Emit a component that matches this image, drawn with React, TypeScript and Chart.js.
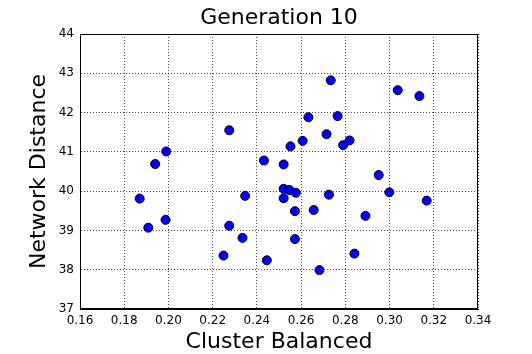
import React, { useEffect, useRef } from "react";
import { Chart, registerables } from "chart.js";

Chart.register(...registerables);

const clusterBalanced: number[] = [
  0.2734, 0.3037, 0.3135, 0.2633, 0.2765, 0.2275, 0.199, 0.194, 0.187, 0.1987,
  0.1909, 0.2432, 0.2521, 0.2552, 0.2607, 0.2715, 0.279, 0.2819, 0.2951, 0.2999,
  0.3168, 0.2891, 0.2347, 0.2521, 0.2547, 0.2576, 0.2521, 0.2572, 0.2657, 0.2726,
  0.2275, 0.2335, 0.2572, 0.2249, 0.2445, 0.2683, 0.2841,
];
const networkDistance: number[] = [
  42.82, 42.57, 42.42, 41.88, 41.91, 41.55, 41.01, 40.69, 39.81, 39.27,
  39.07, 40.78, 40.68, 41.14, 41.28, 41.45, 41.17, 41.29, 40.41, 39.97,
  39.76, 39.37, 39.88, 40.06, 40.03, 39.96, 39.82, 39.49, 39.52, 39.91,
  39.12, 38.81, 38.78, 38.36, 38.24, 37.99, 38.41,
];

const titleText = "Generation 10";
const xLabel = "Cluster Balanced";
const yLabel = "Network Distance";
const xMin = 0.16, xMax = 0.34, xStep = 0.02;
const yMin = 37, yMax = 44, yStep = 1;

const FONT = "'DejaVu Sans', sans-serif";

const frame = {
  id: "frame",
  afterDraw(chart: any) {
    const { ctx, chartArea } = chart;
    ctx.save();
    ctx.strokeStyle = "#000";
    ctx.lineWidth = 1;
    ctx.strokeRect(
      Math.round(chartArea.left) + 0.5,
      Math.round(chartArea.top) + 0.5,
      Math.round(chartArea.right - chartArea.left) - 1,
      Math.round(chartArea.bottom - chartArea.top) - 1
    );
    ctx.fillStyle = "#000";
    ctx.font = `22px ${FONT}`;
    ctx.textAlign = "center";
    ctx.textBaseline = "alphabetic";
    ctx.fillText(titleText, (chartArea.left + chartArea.right) / 2, 24);
    ctx.restore();
  },
};

export default function App() {
  const ref = useRef<HTMLCanvasElement | null>(null);
  useEffect(() => {
    if (!ref.current) return;
    const data = clusterBalanced.map((x, i) => ({ x, y: networkDistance[i] }));
    const grid = {
      color: "rgba(0,0,0,0.7)",
      lineWidth: 1,
      drawTicks: false,
    };
    const chart = new Chart(ref.current, {
      type: "scatter",
      data: {
        datasets: [
          {
            data,
            backgroundColor: "#0000ff",
            borderColor: "#000",
            borderWidth: 1,
            pointRadius: 4.5,
            pointHoverRadius: 4.5,
          },
        ],
      },
      plugins: [frame],
      options: {
        animation: false,
        responsive: false,
        layout: { padding: { left: 0, right: 54, top: 34, bottom: 0 } },
        plugins: {
          legend: { display: false },
          tooltip: { enabled: false },
          title: { display: false },
        },
        scales: {
          x: {
            type: "linear",
            min: xMin,
            max: xMax,
            afterFit(scale: any) {
              scale.height = 45;
            },
            ticks: {
              stepSize: xStep,
              color: "#000",
              padding: 5,
              font: { family: FONT, size: 12 },
              callback: (v: any) => Number(v).toFixed(2),
            },
            grid: { ...grid } as any,
            border: { display: true, color: "#000", width: 1, dash: [1, 2] } as any,
            title: {
              display: true,
              text: xLabel,
              color: "#000",
              font: { family: FONT, size: 22, lineHeight: 1.1 },
              padding: { top: 0, bottom: 0 },
            },
          },
          y: {
            type: "linear",
            min: yMin,
            max: yMax,
            afterFit(scale: any) {
              scale.width = 80;
            },
            ticks: {
              stepSize: yStep,
              color: "#000",
              padding: 6,
              font: { family: FONT, size: 12 },
            },
            grid: { ...grid } as any,
            border: { display: true, color: "#000", width: 1, dash: [1, 2] } as any,
            title: {
              display: true,
              text: yLabel,
              color: "#000",
              font: { family: FONT, size: 22, lineHeight: 1.2 },
              padding: { top: 26, bottom: 0 },
            },
          },
        },
      } as any,
    });
    return () => chart.destroy();
  }, []);
  return (
    <div style={{ position: "fixed", left: 0, top: 0, width: 532, height: 354, background: "#fff" }}>
      <canvas ref={ref} width={532} height={354} style={{ display: "block" }} />
    </div>
  );
}
